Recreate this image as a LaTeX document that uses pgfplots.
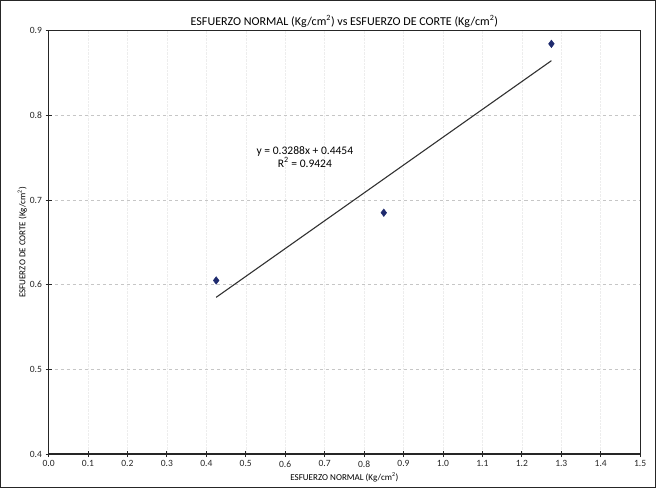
\documentclass[border=0pt]{standalone}
\usepackage{fontspec}
\setmainfont{Carlito}
\usepackage{pgfplots}
\pgfplotsset{compat=1.18}
\definecolor{navy}{HTML}{1F2B6E}
\begin{document}
\begin{tikzpicture}
\begin{axis}[
  scale only axis,
  width=587bp, height=420bp,
  xmin=0, xmax=1.5, ymin=0.4, ymax=0.9,
  xtick={0,0.1,...,1.5}, ytick={0.4,0.5,...,0.9},
  tick pos=left,
  tick align=center,
  major tick length=6bp,
  /pgf/number format/assume math mode=true,
  xticklabel style={/pgf/number format/.cd,fixed,fixed zerofill,precision=1},
  yticklabel style={/pgf/number format/.cd,fixed,fixed zerofill,precision=1},
  ticklabel style={font=\fontsize{9.5}{11}\selectfont, text=black!85},
  axis line style={line width=1.1bp, black!85},
  every tick/.style={black!85, line width=0.8bp},
  ymajorgrids, xmajorgrids,
  y grid style={gray!45, dashed, line width=0.6bp},
  x grid style={gray!14, densely dotted, line width=0.5bp},
  title={ESFUERZO NORMAL (Kg/cm\textsuperscript{2}) vs ESFUERZO DE CORTE (Kg/cm\textsuperscript{2})},
  title style={font=\fontsize{12}{13}\selectfont, yshift=-6bp},
  xlabel={ESFUERZO NORMAL (Kg/cm\textsuperscript{2})},
  ylabel={ESFUERZO DE CORTE (Kg/cm\textsuperscript{2})},
  xlabel style={font=\fontsize{9}{10}\selectfont, yshift=1bp},
  ylabel style={font=\fontsize{9}{10}\selectfont, yshift=-4bp},
  clip=false,
]
\addplot[only marks, mark=diamond*, mark size=3.8bp, color=navy] coordinates {
  (0.425,0.605) (0.85,0.685) (1.275,0.8845)
};
\addplot[black!80, line width=1.1bp] coordinates {
  (0.425,0.5851) (1.275,0.8646)
};
\node[align=center, font=\fontsize{11.5}{13}\selectfont] at (axis cs:0.65,0.751)
  {y = 0.3288x + 0.4454\\R\textsuperscript{2} = 0.9424};
\draw[black!85, line width=0.9bp] (rel axis cs:-0.0813,-0.0793) rectangle (rel axis cs:1.026,1.0715);
\end{axis}
\end{tikzpicture}
\end{document}
